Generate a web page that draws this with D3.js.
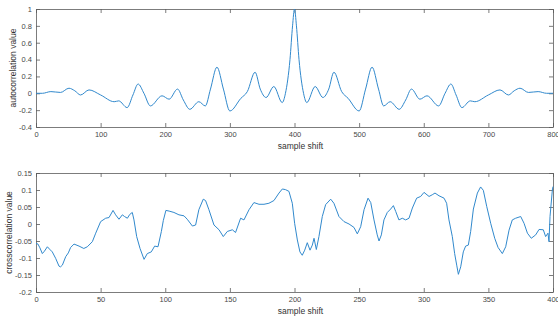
<!DOCTYPE html>
<html>
<head>
<meta charset="utf-8">
<script src="https://cdn.jsdelivr.net/npm/d3@7"></script>
<style>
  html, body { margin: 0; padding: 0; background: #fff; }
  svg { display: block; font-family: "Liberation Sans", Arial, sans-serif; }
</style>
</head>
<body>
<script>
// autocorrelation (top)
const autoLag = [0, 10, 23, 38, 51, 60, 69, 82, 100, 121, 128, 141, 150, 158, 167, 177, 195, 206, 219, 228, 238, 252, 262, 270, 280, 290, 300, 317, 327, 339, 347, 356, 368, 381, 386, 393, 397, 400,
  403, 407, 414, 419, 432, 444, 453, 461, 473, 483, 500, 510, 520, 530, 538, 548, 562, 572, 581, 594, 605, 623, 633, 642, 650, 659, 672, 679, 700, 718, 731, 740, 749, 762, 777, 790, 800];
const autoValue = [0.00, 0.00, 0.02, 0.01, 0.06, 0.03, -0.02, 0.04, -0.02, -0.10, -0.09, -0.17, -0.02, 0.11, 0.00, -0.15, -0.03, -0.07, 0.05, -0.08, -0.19, -0.10, -0.15, 0.05, 0.31, 0.05, -0.21, -0.06, 0.02, 0.25, 0.05, -0.05, 0.08, -0.11, 0.00, 0.40, 0.80, 1.00,
  0.80, 0.40, 0.00, -0.11, 0.08, -0.05, 0.05, 0.25, 0.02, -0.06, -0.21, 0.05, 0.31, 0.05, -0.15, -0.10, -0.19, -0.08, 0.05, -0.07, -0.03, -0.15, 0.00, 0.11, -0.02, -0.17, -0.09, -0.10, -0.02, 0.04, -0.02, 0.03, 0.06, 0.01, 0.02, 0.00, 0.00];

// crosscorrelation (bottom)
const crossLag = [0, 1.5, 3, 4.9, 6.5, 8.8, 10.5, 12.6, 15.2, 17.8, 19, 20.4, 23, 25, 26.8, 29.4, 33.3, 37, 39.7, 43.6, 46.2, 50, 53.9, 56.5, 59.6, 61.6, 64.2, 66.8, 68.5, 70.7, 72.5, 74.5, 75.8, 77.9, 80.5, 83.6, 86.1, 89.2, 91.8, 94.4, 97, 98.5,
  100.5, 103, 106.7, 110.6, 114.5, 117, 121, 123.5, 126, 129.4, 131.2, 133.8, 137.7, 141.6, 144.9, 148, 151.9, 154.4, 158.3, 160.9, 164.8, 168.6, 172.5, 176.4, 180.2, 184.1, 188, 190.6, 193.1, 195.7, 198.3,
  200.1, 202.2, 204.2, 206, 207.9, 209.9, 212, 213.8, 215.1, 216.9, 218.9, 221.5, 224.1, 228, 230.5, 234.4, 238.3, 242.2, 246, 248.6, 251.2, 253.8, 256.9, 259, 261.5, 264, 265.4, 267.2, 269.2, 271.8, 274.4, 276.5, 278.3, 280.8, 283.4, 286, 288.6, 291.2, 294.5, 297.6,
  300.2, 304.1, 306.6, 308.7, 311.8, 315.7, 317.7, 319.5, 322.1, 323.9, 325.5, 326.8, 328.6, 330.6, 332.4, 334.5, 336.3, 338.4, 341.5, 344, 346.1, 348.7, 351.8, 354.9, 357.5, 360.8, 363.4, 366, 368.5, 371.1, 375, 377.6, 380.2, 383.2, 386.6, 389.2, 392.5, 394.3, 396.1, 396.9, 397.7, 399.5, 400];
const crossValue = [-0.057, -0.059, -0.07, -0.087, -0.08, -0.067, -0.074, -0.082, -0.101, -0.124, -0.126, -0.121, -0.096, -0.085, -0.069, -0.059, -0.065, -0.072, -0.067, -0.052, -0.027, 0.007, 0.017, 0.019, 0.040, 0.027, 0.014, 0.027, 0.022, 0.017, 0.028, 0.034, 0.012, -0.037, -0.072, -0.104, -0.087, -0.082, -0.065, -0.067, -0.022, 0.010,
  0.040, 0.038, 0.034, 0.027, 0.024, 0.014, -0.006, -0.003, 0.042, 0.073, 0.069, 0.042, -0.003, -0.017, -0.037, -0.022, -0.017, -0.025, 0.017, 0.012, 0.042, 0.063, 0.058, 0.058, 0.061, 0.069, 0.091, 0.103, 0.101, 0.096, 0.061,
  0.002, -0.047, -0.082, -0.092, -0.077, -0.055, -0.077, -0.062, -0.042, -0.075, -0.037, 0.022, 0.057, 0.073, 0.061, 0.022, 0.007, 0.000, -0.010, -0.029, -0.008, 0.042, 0.076, 0.063, 0.012, -0.032, -0.050, -0.032, 0.012, 0.034, 0.044, 0.054, 0.037, 0.012, 0.017, 0.012, 0.017, 0.047, 0.076, 0.081,
  0.093, 0.081, 0.086, 0.091, 0.083, 0.076, 0.061, 0.012, -0.037, -0.087, -0.121, -0.148, -0.126, -0.082, -0.065, -0.062, -0.022, 0.044, 0.091, 0.109, 0.099, 0.052, 0.002, -0.042, -0.069, -0.087, -0.067, -0.018, 0.012, 0.017, 0.022, 0.002, -0.027, -0.042, -0.032, -0.016, -0.017, -0.037, -0.027, -0.052, 0.022, 0.100, 0.110];

// ticks
const autoXTicks = [0, 100, 200, 300, 400, 500, 600, 700, 800];
const autoYTicks = [-0.4, -0.2, 0, 0.2, 0.4, 0.6, 0.8, 1];
const crossXTicks = [0, 50, 100, 150, 200, 250, 300, 350, 400];
const crossYTicks = [-0.2, -0.15, -0.1, -0.05, 0, 0.05, 0.1, 0.15];

const width = 558;
const height = 320;
const lineColor = '#3189cd';
const axisColor = '#5a5a5a';
const textColor = '#484848';

const svg = d3.select('body')
  .append('svg')
  .attr('width', width)
  .attr('height', height);

// MATLAB style: hyphen minus, no trailing zeros
const fmt = (d) => String(+d.toFixed(2));

function drawPanel(opt) {
  const { left, right, top, bottom, xDomain, yDomain, xTicks, yTicks, xs, ys, curve, yTitle } = opt;

  const x = d3.scaleLinear().domain(xDomain).range([left, right]);
  const y = d3.scaleLinear().domain(yDomain).range([bottom, top]);
  const g = svg.append('g');

  // inward ticks on all four sides
  const tick = 4;
  g.append('g')
    .attr('transform', `translate(0, ${bottom})`)
    .call(d3.axisBottom(x).tickValues(xTicks).tickFormat(fmt).tickSizeInner(-tick).tickSizeOuter(0).tickPadding(5));
  g.append('g')
    .attr('transform', `translate(0, ${top})`)
    .call(d3.axisTop(x).tickValues(xTicks).tickFormat('').tickSizeInner(-tick).tickSizeOuter(0));
  g.append('g')
    .attr('transform', `translate(${left}, 0)`)
    .call(d3.axisLeft(y).tickValues(yTicks).tickFormat(fmt).tickSizeInner(-tick).tickSizeOuter(0).tickPadding(4));
  g.append('g')
    .attr('transform', `translate(${right}, 0)`)
    .call(d3.axisRight(y).tickValues(yTicks).tickFormat('').tickSizeInner(-tick).tickSizeOuter(0));

  g.selectAll('.domain').attr('stroke', axisColor).attr('stroke-width', 0.8);
  g.selectAll('.tick line').attr('stroke', axisColor).attr('stroke-width', 0.8);
  g.selectAll('.tick text')
    .attr('fill', textColor)
    .style('font-size', '7.5px')
    .style('font-family', '"Liberation Sans", Arial, sans-serif');

  // the line
  const line = d3.line()
    .x((d, i) => x(xs[i]))
    .y((d, i) => y(ys[i]))
    .curve(curve);
  g.append('path')
    .datum(xs)
    .attr('fill', 'none')
    .attr('stroke', lineColor)
    .attr('stroke-width', 1)
    .attr('d', line);

  // titles
  g.append('text')
    .attr('x', (left + right) / 2 + 6)
    .attr('y', bottom + 22)
    .attr('text-anchor', 'middle')
    .attr('fill', '#333')
    .style('font-size', '8.5px')
    .text('sample shift');
  g.append('text')
    .attr('transform', `translate(${opt.yTitleX}, ${(top + bottom) / 2}) rotate(-90)`)
    .attr('text-anchor', 'middle')
    .attr('fill', '#333')
    .style('font-size', '8.5px')
    .text(yTitle);
}

drawPanel({
  left: 36, right: 553, top: 9, bottom: 127,
  xDomain: [0, 800], yDomain: [-0.4, 1],
  xTicks: autoXTicks, yTicks: autoYTicks,
  xs: autoLag, ys: autoValue,
  curve: d3.curveMonotoneX,
  yTitle: 'autocorrelation value', yTitleX: 16
});

drawPanel({
  left: 36, right: 553, top: 173, bottom: 292,
  xDomain: [0, 400], yDomain: [-0.2, 0.15],
  xTicks: crossXTicks, yTicks: crossYTicks,
  xs: crossLag, ys: crossValue,
  curve: d3.curveLinear,
  yTitle: 'crosscorrelation value', yTitleX: 12
});
</script>
</body>
</html>
